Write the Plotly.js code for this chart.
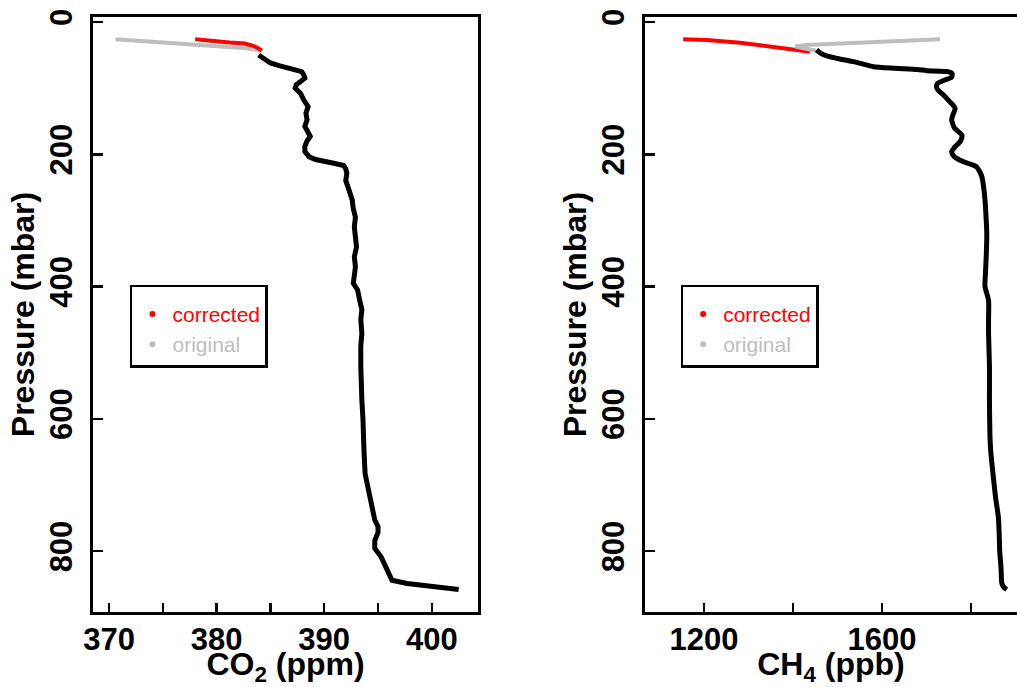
<!DOCTYPE html>
<html>
<head>
<meta charset="utf-8">
<script src="https://cdn.plot.ly/plotly-3.0.1.min.js"></script>
<style>html,body{margin:0;padding:0;background:#fff;}#chart{width:1017px;height:687px;}</style>
</head>
<body>
<div id="chart"></div>
<script>
// ---- CO2 panel data ----
var co2Pressure = [50, 56, 62, 66, 70, 73, 75, 80, 85, 90,
  95, 100, 108, 118, 128, 138, 148, 158, 166, 173,
  180, 188, 196, 204, 208, 211, 214, 217, 222, 229,
  240, 249, 260, 269, 282, 295, 310, 325, 340, 355,
  370, 383, 395, 405, 415, 421, 435, 450, 471, 490,
  521, 545, 572, 600, 622, 650, 683, 700, 723, 740,
  753, 763, 772, 784, 796, 809, 820, 829, 838, 844,
  849, 853, 858];
var co2Values = [383.9, 384.4, 385.0, 385.8, 386.8, 387.5, 387.9, 388.1, 388.2, 387.8,
  387.4, 387.3, 387.8, 388.1, 388.5, 388.3, 388.4, 388.2, 388.5, 388.7,
  388.4, 388.2, 388.2, 388.6, 389.2, 389.9, 391.0, 391.8, 392.0, 392.1,
  392.0, 392.2, 392.4, 392.6, 392.7, 392.9, 392.8, 392.9, 393.0, 392.8,
  392.9, 392.8, 392.7, 393.1, 393.3, 393.3, 393.5, 393.4, 393.5, 393.4,
  393.4, 393.5, 393.5, 393.6, 393.6, 393.7, 393.8, 394.0, 394.3, 394.5,
  394.7, 395.0, 395.0, 394.7, 394.7, 395.3, 395.6, 395.8, 396.1, 396.3,
  397.7, 399.8, 402.5];
var co2CorrPressure = [26, 28, 31, 32.5, 36, 40, 43.5];
var co2CorrValues   = [378.0, 379.1, 381.2, 382.6, 383.4, 383.9, 384.2];
var co2OrigPressure = [26.2, 28.7, 31.3, 33.8, 37.3, 39.9, 43.4];
var co2OrigValues   = [370.6, 372.9, 375.7, 377.5, 380.6, 382.8, 384.2];

// ---- CH4 panel data ----
var ch4Pressure = [42.4, 47, 51.4, 56, 60, 64, 67.6, 70, 72, 73.6,
  75, 78, 83.7, 88, 93, 98.8, 104, 110, 120, 130.6,
  140, 148, 160, 171, 180, 190, 196, 203, 209, 214,
  219, 226, 234, 250, 269, 290, 320, 350, 380, 400,
  421, 450, 471, 521, 570, 622, 650, 683, 720, 748,
  775, 799, 825, 849, 855, 858];
var ch4Values = [1453, 1462, 1476, 1505, 1536, 1560, 1581, 1630, 1680, 1701,
  1746, 1758, 1757, 1740, 1725, 1723, 1728, 1738, 1752, 1765,
  1760, 1757, 1763, 1780, 1777, 1763, 1757, 1762, 1776, 1795,
  1813, 1820, 1825, 1829, 1832, 1834, 1836, 1835, 1833, 1832,
  1840, 1840, 1840, 1842, 1842, 1843, 1845, 1850, 1856, 1862,
  1864, 1865, 1868, 1870, 1875, 1881];
var ch4CorrPressure = [26.2, 27.2, 31.3, 37.3, 41.3, 45];
var ch4CorrValues   = [1153, 1206, 1281, 1356, 1408, 1438];
var ch4OrigPressure = [43.4, 40, 37, 35, 34, 32.5, 31.3, 29.5, 28.7, 27.5, 26.2];
var ch4OrigValues   = [1452, 1420, 1405, 1430, 1460, 1500, 1543, 1600, 1641, 1690, 1731];

var legendNames = ['corrected', 'original'];
var seriesColors = ['#ff0000', '#bebebe'];

var FONT = 'Liberation Sans, Arial, sans-serif';

function lineTrace(x, y, color, width, xa, ya, shape) {
  return {x: x, y: y, type: 'scatter', mode: 'lines', xaxis: xa, yaxis: ya,
    line: {color: color, width: width, shape: shape || 'linear', smoothing: 0.6},
    showlegend: false, hoverinfo: 'skip'};
}
function legendTrace(i, xa, ya, leg) {
  return {x: [null], y: [null], type: 'scatter', mode: 'markers', xaxis: xa, yaxis: ya,
    marker: {color: seriesColors[i], size: 6},
    name: '<span style="color:' + seriesColors[i] + '">' + legendNames[i] + '</span>',
    legend: leg, showlegend: true};
}

var data = [
  lineTrace(co2OrigValues, co2OrigPressure, seriesColors[1], 4, 'x', 'y'),
  lineTrace(co2CorrValues, co2CorrPressure, seriesColors[0], 4, 'x', 'y'),
  lineTrace(co2Values, co2Pressure, '#000000', 5, 'x', 'y'),
  legendTrace(0, 'x', 'y', 'legend'),
  legendTrace(1, 'x', 'y', 'legend'),
  lineTrace(ch4CorrValues, ch4CorrPressure, seriesColors[0], 4, 'x2', 'y2'),
  lineTrace(ch4OrigValues, ch4OrigPressure, seriesColors[1], 4, 'x2', 'y2'),
  lineTrace(ch4Values, ch4Pressure, '#000000', 5, 'x2', 'y2', 'spline'),
  legendTrace(0, 'x2', 'y2', 'legend2'),
  legendTrace(1, 'x2', 'y2', 'legend2')
];

var tickFont = {family: FONT, size: 31, color: '#000', weight: 'bold'};
var titleFont = {family: FONT, size: 32, color: '#000', weight: 'bold'};

function xAxis(domain, range, dtick, tick0, minorDtick, title, anchor) {
  return {domain: domain, range: range, anchor: anchor, dtick: dtick, tick0: tick0,
    ticks: 'inside', ticklen: 9, tickwidth: 2.5, tickcolor: '#000',
    minor: {dtick: minorDtick, tick0: tick0, ticks: 'inside', ticklen: 9, tickwidth: 2.5, tickcolor: '#000', showgrid: false},
    showline: true, linecolor: '#000', linewidth: 3, mirror: true,
    showgrid: false, zeroline: false, tickfont: tickFont, ticklabelstandoff: -2,
    title: {text: title, font: titleFont, standoff: 6}, fixedrange: true};
}
function yAxis(domain, anchor, mirror) {
  return {domain: domain, range: [892, -7.5], anchor: anchor, dtick: 200, tick0: 0,
    ticks: 'inside', ticklen: 10, tickwidth: 2.5, tickcolor: '#000', tickangle: -90,
    showline: true, linecolor: '#000', linewidth: 3, mirror: mirror,
    showgrid: false, zeroline: false, tickfont: tickFont, ticklabelstandoff: 6,
    title: {text: 'Pressure (mbar)', font: titleFont, standoff: 0}, fixedrange: true};
}

var legendBase = {y: 0.55, yanchor: 'top', xanchor: 'left', bgcolor: '#fff',
  bordercolor: '#000', borderwidth: 2.5, entrywidth: 131,
  title: {text: ' ', font: {family: FONT, size: 5}},
  font: {family: FONT, size: 21}, itemclick: false, itemdoubleclick: false};

var layout = {
  width: 1017, height: 687,
  margin: {l: 93, r: 0, t: 17, b: 75},
  paper_bgcolor: '#fff', plot_bgcolor: '#fff',
  xaxis: xAxis([0, 0.4167], [368.5, 404.3], 10, 370, 5, 'CO<sub>2</sub> (ppm)', 'y'),
  yaxis: yAxis([0, 1], 'x', true),
  xaxis2: xAxis([0.5974, 1], [1067, 1904], 400, 1200, 200, 'CH<sub>4</sub> (ppb)', 'y2'),
  yaxis2: yAxis([0, 1], 'x2', false),
  legend: Object.assign({x: 0.040}, legendBase),
  legend2: Object.assign({x: 0.636}, legendBase),
  showlegend: true
};

Plotly.newPlot('chart', data, layout, {displayModeBar: false, staticPlot: true});
</script>
</body>
</html>
